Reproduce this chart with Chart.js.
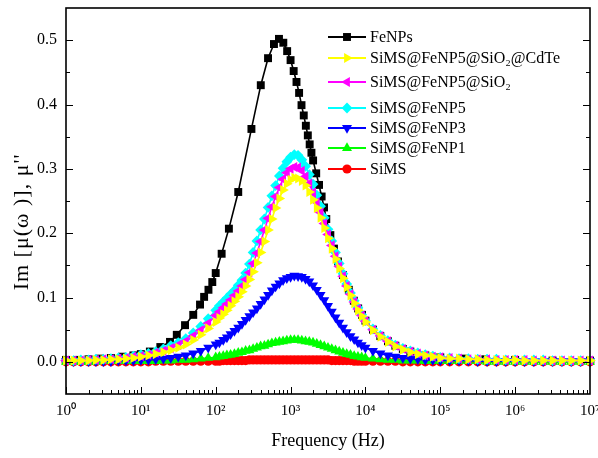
<!DOCTYPE html>
<html>
<head>
<meta charset="utf-8">
<script src="https://cdn.jsdelivr.net/npm/chart.js@4.4.1/dist/chart.umd.min.js"></script>
<style>
  html, body { margin: 0; padding: 0; background: #fff; }
  #wrap { width: 598px; height: 458px; }
</style>
</head>
<body>
<div id="wrap"><canvas id="c" width="598" height="458"></canvas></div>
<script>
// Frequencies (Hz) of the FeNPs sweep
const freqFe = [1, 1.41, 2, 2.82, 3.98, 5.62, 7.94, 10, 13.2, 18.2, 24.5, 30.2, 38.9, 50.1, 61.7,
  70, 80, 90, 100, 120, 150, 200, 300, 400, 500, 600, 700, 800, 900, 1000,
  1100, 1200, 1300, 1400, 1500, 1600, 1700, 1800, 1900, 2000, 2200, 2400, 2600, 2800, 3000,
  3400, 3800, 4300, 5000, 6000, 7000, 8000, 9000, 10000, 12600, 15800, 20000, 25100, 31600,
  39800, 63100, 100000, 200000, 400000, 1e6, 3.16e6, 1e7];
const imFeNPs = [0.003, 0.003, 0.004, 0.005, 0.006, 0.008, 0.010, 0.012, 0.016, 0.023, 0.031, 0.042, 0.057, 0.073, 0.089,
  0.101, 0.112, 0.124, 0.138, 0.168, 0.207, 0.264, 0.362, 0.430, 0.472, 0.494, 0.502, 0.496, 0.483, 0.469,
  0.452, 0.435, 0.418, 0.399, 0.383, 0.367, 0.352, 0.338, 0.325, 0.313, 0.293, 0.275, 0.257, 0.240, 0.222,
  0.197, 0.176, 0.156, 0.135, 0.112, 0.095, 0.083, 0.073, 0.064, 0.050, 0.040, 0.032, 0.025, 0.020,
  0.016, 0.010, 0.007, 0.005, 0.004, 0.003, 0.002, 0.002];

// Frequencies (Hz) of the SiMS-based samples
const freq = [1, 1.26, 1.58, 2, 2.51, 3.16, 3.98, 5.01, 6.31, 7.94,
  10, 12.6, 15.8, 20, 25.1, 31.6, 39.8, 50.1, 63.1, 79.4,
  100, 112, 126, 141, 158, 178, 200, 224, 251, 282,
  316, 355, 398, 447, 501, 562, 631, 708, 794, 891,
  1000, 1122, 1259, 1413, 1585, 1778, 1995, 2239, 2512, 2818,
  3162, 3548, 3981, 4467, 5012, 5623, 6310, 7079, 7943, 8913,
  10000, 12589, 15849, 19953, 25119, 31623, 39811, 50119, 63096, 79433,
  100000, 133400, 177800, 237100, 316200, 421700, 562300, 749900,
  1000000, 1334000, 1778000, 2371000, 3162000, 4217000, 5623000, 7499000, 10000000];

const imCdTe = [0.002, 0.002, 0.002, 0.002, 0.003, 0.003, 0.004, 0.004, 0.005, 0.006,
  0.008, 0.010, 0.012, 0.015, 0.018, 0.022, 0.027, 0.034, 0.042, 0.052,
  0.062, 0.068, 0.074, 0.080, 0.087, 0.094, 0.101, 0.109, 0.118, 0.128,
  0.140, 0.154, 0.170, 0.187, 0.205, 0.222, 0.239, 0.254, 0.267, 0.277,
  0.283, 0.286, 0.285, 0.281, 0.274, 0.264, 0.252, 0.239, 0.224, 0.208,
  0.192, 0.176, 0.160, 0.145, 0.130, 0.116, 0.103, 0.091, 0.080, 0.071,
  0.062, 0.049, 0.039, 0.031, 0.024, 0.019, 0.015, 0.012, 0.010, 0.008,
  0.006, 0.005, 0.005, 0.004, 0.004, 0.003, 0.003, 0.003,
  0.003, 0.002, 0.002, 0.002, 0.002, 0.002, 0.002, 0.002, 0.002];

const imSiO2 = [0.002, 0.002, 0.002, 0.003, 0.003, 0.004, 0.004, 0.005, 0.006, 0.008,
  0.009, 0.011, 0.014, 0.017, 0.021, 0.026, 0.032, 0.040, 0.049, 0.060,
  0.072, 0.078, 0.084, 0.090, 0.096, 0.103, 0.110, 0.118, 0.128, 0.139,
  0.153, 0.169, 0.187, 0.205, 0.223, 0.241, 0.257, 0.271, 0.284, 0.294,
  0.300, 0.303, 0.302, 0.297, 0.288, 0.277, 0.263, 0.248, 0.232, 0.215,
  0.198, 0.181, 0.164, 0.148, 0.133, 0.118, 0.105, 0.093, 0.082, 0.072,
  0.063, 0.050, 0.040, 0.032, 0.025, 0.020, 0.016, 0.013, 0.010, 0.008,
  0.007, 0.006, 0.005, 0.004, 0.004, 0.004, 0.003, 0.003,
  0.003, 0.003, 0.002, 0.002, 0.002, 0.002, 0.002, 0.002, 0.002];

const imFeNP5 = [0.002, 0.002, 0.003, 0.003, 0.004, 0.004, 0.005, 0.006, 0.007, 0.009,
  0.011, 0.013, 0.016, 0.020, 0.025, 0.030, 0.036, 0.045, 0.055, 0.067,
  0.080, 0.087, 0.093, 0.099, 0.105, 0.111, 0.119, 0.127, 0.138, 0.152,
  0.170, 0.188, 0.205, 0.222, 0.240, 0.258, 0.274, 0.289, 0.301, 0.311,
  0.318, 0.322, 0.321, 0.314, 0.304, 0.291, 0.276, 0.259, 0.242, 0.224,
  0.206, 0.188, 0.170, 0.153, 0.137, 0.121, 0.107, 0.095, 0.084, 0.073,
  0.064, 0.051, 0.041, 0.033, 0.026, 0.021, 0.017, 0.014, 0.011, 0.009,
  0.007, 0.006, 0.005, 0.005, 0.004, 0.004, 0.004, 0.003,
  0.003, 0.003, 0.003, 0.003, 0.002, 0.002, 0.002, 0.002, 0.002];

const imFeNP3 = [0.001, 0.001, 0.001, 0.001, 0.001, 0.001, 0.001, 0.002, 0.002, 0.002,
  0.003, 0.003, 0.004, 0.005, 0.006, 0.008, 0.010, 0.013, 0.017, 0.022,
  0.027, 0.030, 0.034, 0.038, 0.043, 0.048, 0.053, 0.059, 0.065, 0.071,
  0.077, 0.083, 0.090, 0.097, 0.104, 0.111, 0.117, 0.122, 0.127, 0.130,
  0.132, 0.134, 0.133, 0.132, 0.129, 0.125, 0.119, 0.112, 0.104, 0.096,
  0.087, 0.078, 0.069, 0.061, 0.053, 0.046, 0.040, 0.035, 0.030, 0.026,
  0.022, 0.017, 0.013, 0.010, 0.008, 0.006, 0.005, 0.004, 0.003, 0.003,
  0.002, 0.002, 0.002, 0.002, 0.001, 0.001, 0.001, 0.001,
  0.001, 0.001, 0.001, 0.001, 0.001, 0.001, 0.001, 0.001, 0.001];

const imFeNP1 = [0.000, 0.000, 0.000, 0.000, 0.000, 0.001, 0.001, 0.001, 0.001, 0.001,
  0.001, 0.001, 0.001, 0.002, 0.002, 0.003, 0.003, 0.004, 0.005, 0.006,
  0.007, 0.008, 0.009, 0.010, 0.011, 0.012, 0.014, 0.015, 0.017, 0.018,
  0.020, 0.022, 0.024, 0.025, 0.027, 0.029, 0.030, 0.031, 0.032, 0.033,
  0.034, 0.034, 0.034, 0.033, 0.032, 0.031, 0.030, 0.028, 0.026, 0.024,
  0.022, 0.020, 0.018, 0.016, 0.014, 0.012, 0.011, 0.009, 0.008, 0.007,
  0.006, 0.005, 0.004, 0.003, 0.003, 0.002, 0.002, 0.002, 0.001, 0.001,
  0.001, 0.001, 0.001, 0.001, 0.001, 0.000, 0.000, 0.000,
  0.000, 0.000, 0.000, 0.000, 0.000, 0.000, 0.000, 0.000, 0.000];

const imSiMS = [0.000, 0.000, 0.000, 0.000, 0.000, 0.000, 0.000, 0.000, 0.000, 0.000,
  0.000, 0.000, 0.001, 0.001, 0.001, 0.001, 0.001, 0.001, 0.001, 0.001,
  0.001, 0.001, 0.002, 0.002, 0.002, 0.002, 0.002, 0.002, 0.002, 0.003,
  0.003, 0.003, 0.003, 0.003, 0.003, 0.003, 0.003, 0.003, 0.003, 0.003,
  0.003, 0.003, 0.003, 0.003, 0.003, 0.003, 0.003, 0.003, 0.003, 0.003,
  0.003, 0.002, 0.002, 0.002, 0.002, 0.002, 0.002, 0.001, 0.001, 0.001,
  0.001, 0.001, 0.001, 0.001, 0.001, 0.000, 0.000, 0.000, 0.000, 0.000,
  0.000, 0.000, 0.000, 0.000, 0.000, 0.000, 0.000, 0.000,
  0.000, 0.000, 0.000, 0.000, 0.000, 0.000, 0.000, 0.000, 0.000];

const seriesNames = ['FeNPs', 'SiMS@FeNP5@SiO\u2082@CdTe', 'SiMS@FeNP5@SiO\u2082',
  'SiMS@FeNP5', 'SiMS@FeNP3', 'SiMS@FeNP1', 'SiMS'];
const decadeTicks = [1, 10, 100, 1e3, 1e4, 1e5, 1e6, 1e7];
const yTicks = [0, 0.1, 0.2, 0.3, 0.4, 0.5];
const yTitle = "Im [\u03bc(\u03c9 )], \u03bc''";

const SUP = ['\u2070', '\u00b9', '\u00b2', '\u00b3', '\u2074', '\u2075', '\u2076', '\u2077'];
const FONT = "'Liberation Serif', 'Times New Roman', serif";

function pairs(xs, ys) { return xs.map((x, i) => ({ x: x, y: ys[i] })); }

const looks = [
  { color: '#000000', pointStyle: 'rect',     rotation: 0,   radius: 5.6, order: 6 },
  { color: '#ffff00', pointStyle: 'triangle', rotation: 90,  radius: 5.8, order: 0 },
  { color: '#ff00ff', pointStyle: 'triangle', rotation: -90, radius: 5.8, order: 1 },
  { color: '#00ffff', pointStyle: 'rectRot',  rotation: 0,   radius: 5.4, order: 2 },
  { color: '#0000ff', pointStyle: 'triangle', rotation: 180, radius: 5.8, order: 3 },
  { color: '#00ff00', pointStyle: 'triangle', rotation: 0,   radius: 5.8, order: 4 },
  { color: '#ff0000', pointStyle: 'circle',   rotation: 0,   radius: 4.6, order: 5 }
];

const seriesData = [
  pairs(freqFe, imFeNPs), pairs(freq, imCdTe), pairs(freq, imSiO2),
  pairs(freq, imFeNP5), pairs(freq, imFeNP3), pairs(freq, imFeNP1), pairs(freq, imSiMS)
];

const datasets = seriesData.map((d, i) => ({
  label: seriesNames[i],
  data: d,
  order: looks[i].order,
  borderColor: looks[i].color,
  backgroundColor: looks[i].color,
  borderWidth: 1.6,
  pointStyle: looks[i].pointStyle,
  rotation: looks[i].rotation,
  pointRadius: looks[i].radius,
  pointBorderWidth: 0,
  pointBackgroundColor: looks[i].color,
  tension: 0,
  clip: 6
}));

// Box frame with inward ticks on the bottom, left and right axes
const framePlugin = {
  id: 'frame',
  afterDatasetsDraw(chart) {
    const { ctx, chartArea: a, scales } = chart;
    const xs = scales.x, ys = scales.y;
    ctx.save();
    ctx.strokeStyle = '#000';
    ctx.lineWidth = 1;
    ctx.beginPath();
    for (let d = 0; d < 7; d++) {
      for (let m = 1; m <= 9; m++) {
        const px = Math.round(xs.getPixelForValue(m * Math.pow(10, d))) + 0.5;
        const len = m === 1 ? 7 : 4;
        ctx.moveTo(px, a.bottom);
        ctx.lineTo(px, a.bottom - len);
      }
    }
    for (let k = 1; k <= 11; k++) {
      const v = -0.05 + k * 0.05;
      const py = Math.round(ys.getPixelForValue(v)) + 0.5;
      const len = (k % 2 === 1) ? 7 : 4;
      ctx.moveTo(a.left, py); ctx.lineTo(a.left + len, py);
      ctx.moveTo(a.right, py); ctx.lineTo(a.right - len, py);
    }
    ctx.stroke();
    ctx.lineWidth = 1.6;
    ctx.strokeRect(a.left, a.top, a.right - a.left, a.bottom - a.top);
    ctx.restore();
  }
};

// Rotated y-axis title
const yTitlePlugin = {
  id: 'yTitle',
  afterDraw(chart) {
    const ctx = chart.ctx;
    ctx.save();
    ctx.translate(22, 222);
    ctx.rotate(-Math.PI / 2);
    ctx.font = '22px ' + FONT;
    if ('letterSpacing' in ctx) ctx.letterSpacing = '1px';
    ctx.fillStyle = '#000';
    ctx.textAlign = 'center';
    ctx.textBaseline = 'middle';
    ctx.fillText(yTitle, 0, 0);
    ctx.restore();
  }
};

// Legend drawn inside the plot, at the upper right
const legendPlugin = {
  id: 'insideLegend',
  afterDraw(chart) {
    const ctx = chart.ctx;
    const rows = [37, 58, 82, 108, 128, 148, 169];
    ctx.save();
    ctx.font = '16px ' + FONT;
    ctx.textBaseline = 'middle';
    ctx.textAlign = 'left';
    seriesNames.forEach((name, i) => {
      const y = rows[i];
      const s = looks[i];
      ctx.strokeStyle = s.color;
      ctx.lineWidth = 1.8;
      ctx.beginPath();
      ctx.moveTo(328, y); ctx.lineTo(366, y);
      ctx.stroke();
      ctx.fillStyle = s.color;
      Chart.helpers.drawPoint(ctx, {
        pointStyle: s.pointStyle, rotation: s.rotation, radius: s.radius, borderWidth: 0
      }, 347, y);
      ctx.fillStyle = '#000';
      ctx.fillText(name, 370, y + 1);
    });
    ctx.restore();
  }
};

new Chart(document.getElementById('c'), {
  type: 'line',
  data: { datasets: datasets },
  options: {
    responsive: false,
    animation: false,
    devicePixelRatio: 1,
    layout: { padding: { top: 8, right: 8, left: 0, bottom: 0 } },
    plugins: { legend: { display: false }, tooltip: { enabled: false } },
    scales: {
      x: {
        type: 'logarithmic',
        min: 1, max: 1e7,
        grid: { display: false, drawTicks: false },
        border: { display: false },
        afterBuildTicks: (s) => { s.ticks = decadeTicks.map(v => ({ value: v })); },
        afterFit: (s) => { s.height = 64; s.paddingLeft = 0; s.paddingRight = 0; },
        ticks: {
          autoSkip: false, maxRotation: 0, padding: 8, color: '#000',
          font: { family: FONT, size: 15 },
          callback: (v) => '10' + SUP[Math.round(Math.log10(v))]
        },
        title: {
          display: true, text: 'Frequency (Hz)', color: '#000',
          font: { family: FONT, size: 18 }, padding: { top: 0, bottom: 6 }
        }
      },
      y: {
        type: 'linear',
        min: -0.05, max: 0.55,
        grid: { display: false, drawTicks: false },
        border: { display: false },
        afterBuildTicks: (s) => { s.ticks = yTicks.map(v => ({ value: v })); },
        afterFit: (s) => { s.width = 66; s.paddingTop = 0; s.paddingBottom = 0; },
        ticks: {
          padding: 9, color: '#000',
          font: { family: FONT, size: 16 },
          callback: (v) => v.toFixed(1)
        }
      }
    }
  },
  plugins: [framePlugin, yTitlePlugin, legendPlugin]
});
</script>
</body>
</html>
